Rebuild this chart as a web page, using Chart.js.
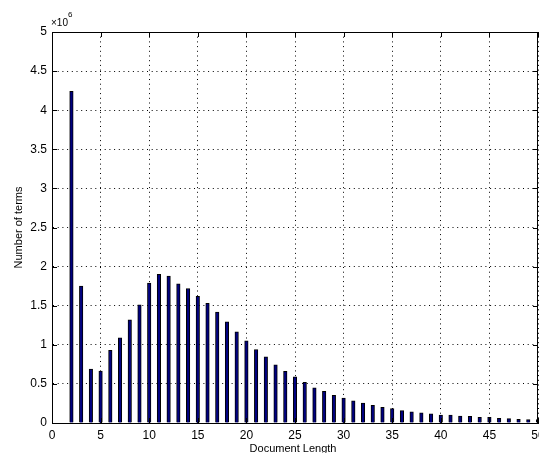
<!DOCTYPE html>
<html>
<head>
<meta charset="utf-8">
<script src="https://cdn.jsdelivr.net/npm/chart.js@4.4.1/dist/chart.umd.min.js"></script>
<style>
  html, body { margin: 0; padding: 0; background: #fff; }
  canvas { display: block; }
</style>
</head>
<body>
<canvas id="c" width="539" height="453"></canvas>
<script>
// document length (x) and number of terms (y)
const lengths = [2, 3, 4, 5, 6, 7, 8, 9, 10, 11, 12, 13, 14, 15, 16, 17, 18, 19, 20,
                 21, 22, 23, 24, 25, 26, 27, 28, 29, 30, 31, 32, 33, 34, 35, 36, 37, 38,
                 39, 40, 41, 42, 43, 44, 45, 46, 47, 48, 49, 50];
const terms = [4240000, 1750000, 690000, 665000, 930000, 1090000, 1320000, 1510000,
               1790000, 1900000, 1880000, 1780000, 1720000, 1620000, 1530000, 1420000,
               1295000, 1165000, 1050000, 940000, 845000, 745000, 660000, 590000,
               520000, 450000, 405000, 355000, 320000, 285000, 255000, 226000,
               200000, 184000, 158000, 142000, 130000, 117000, 102000, 100000,
               87000, 85000, 74000, 71000, 60000, 56000, 47000, 44000, 45000];
const xTitle = 'Document Length';
const yTitle = 'Number of terms';
const yScaleExp = 6;

const tickFont = { family: 'Liberation Sans, Arial, sans-serif', size: 12 };

// box, inward tick marks, exponent and axis titles (matlab style)
const frame = {
    id: 'frame',
    afterDatasetsDraw(chart) {
        const { ctx, chartArea: a, scales } = chart;
        const tl = 5;
        ctx.save();
        ctx.strokeStyle = '#000';
        ctx.lineWidth = 1;
        ctx.beginPath();
        ctx.moveTo(a.left, a.top + 0.5);
        ctx.lineTo(a.right - 0.5, a.top + 0.5);
        ctx.lineTo(a.right - 0.5, a.bottom);
        scales.x.ticks.forEach(t => {
            const px = Math.round(scales.x.getPixelForValue(t.value)) + 0.5;
            ctx.moveTo(px, a.bottom); ctx.lineTo(px, a.bottom - tl);
            ctx.moveTo(px, a.top); ctx.lineTo(px, a.top + tl);
        });
        scales.y.ticks.forEach(t => {
            const py = Math.round(scales.y.getPixelForValue(t.value)) + 0.5;
            ctx.moveTo(a.left, py); ctx.lineTo(a.left + tl, py);
            ctx.moveTo(a.right, py); ctx.lineTo(a.right - tl, py);
        });
        ctx.stroke();

        ctx.fillStyle = '#000';
        ctx.font = '11px "Liberation Sans", Arial, sans-serif';
        ctx.textBaseline = 'alphabetic';
        ctx.textAlign = 'center';
        ctx.fillText(xTitle, (a.left + a.right) / 2 - 2, 452);

        ctx.save();
        ctx.translate(21.5, (a.top + a.bottom) / 2);
        ctx.rotate(-Math.PI / 2);
        ctx.fillText(yTitle, 0, 0);
        ctx.restore();

        ctx.textAlign = 'left';
        ctx.font = '10px "Liberation Sans", Arial, sans-serif';
        ctx.fillText('\u00d710', a.left - 1, 26);
        ctx.font = '8px "Liberation Sans", Arial, sans-serif';
        ctx.fillText(String(yScaleExp), a.left + 16, 17);
        ctx.restore();
    }
};

new Chart(document.getElementById('c'), {
    type: 'bar',
    data: {
        datasets: [{
            data: lengths.map((x, i) => ({ x: x, y: terms[i] })),
            backgroundColor: '#000080',
            borderColor: '#000',
            borderWidth: 1,
            barThickness: 3.5
        }]
    },
    options: {
        responsive: false,
        animation: false,
        layout: { padding: { top: 32, right: 1, left: 0, bottom: 0 } },
        plugins: { legend: { display: false }, tooltip: { enabled: false } },
        scales: {
            x: {
                type: 'linear',
                min: 0,
                max: 50,
                offset: false,
                grid: { color: '#000', drawTicks: false, offset: false },
                border: { color: '#000', width: 1, dash: [1, 3.7] },
                ticks: { stepSize: 5, color: '#000', font: tickFont, padding: 5, maxRotation: 0, autoSkip: false },
                afterFit: s => { s.height = 30; s.paddingLeft = 0; s.paddingRight = 0; }
            },
            y: {
                min: 0,
                max: 5000000,
                grid: { color: '#000', drawTicks: false },
                border: { color: '#000', width: 1, dash: [1, 3.7] },
                ticks: {
                    stepSize: 500000,
                    color: '#000',
                    font: tickFont,
                    padding: 5,
                    callback: v => String(v / Math.pow(10, yScaleExp))
                },
                afterFit: s => { s.width = 52; s.paddingTop = 0; s.paddingBottom = 0; }
            }
        }
    },
    plugins: [frame]
});
</script>
</body>
</html>
